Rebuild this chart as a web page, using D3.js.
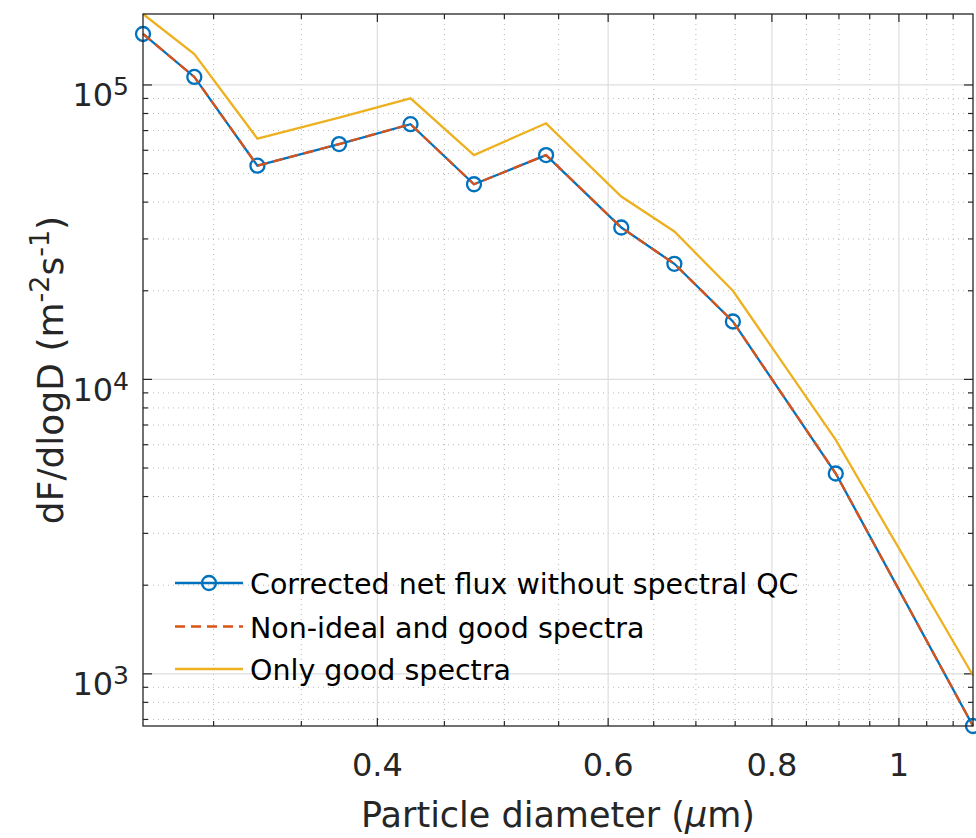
<!DOCTYPE html>
<html>
<head>
<meta charset="utf-8">
<script src="https://cdn.jsdelivr.net/npm/d3@7"></script>
<style>
  html, body { margin: 0; padding: 0; background: #fff; }
  svg text { font-family: "DejaVu Sans", sans-serif; fill: #262626; }
</style>
</head>
<body>
<svg id="chart" width="976" height="838"></svg>
<script>
// particle diameter (um) and the three flux curves
const diameter = [0.265, 0.290, 0.324, 0.374, 0.424, 0.474, 0.538, 0.614, 0.674, 0.747, 0.895, 1.139];
const corrected = [1.49e5, 1.065e5, 5.32e4, 6.30e4, 7.36e4, 4.60e4, 5.78e4, 3.28e4, 2.47e4, 1.573e4, 4.79e3, 665];
const nonIdeal = [1.49e5, 1.065e5, 5.32e4, 6.30e4, 7.36e4, 4.60e4, 5.78e4, 3.28e4, 2.47e4, 1.573e4, 4.79e3, 665];
const goodOnly = [1.742e5, 1.274e5, 6.57e4, 7.74e4, 9.01e4, 5.78e4, 7.41e4, 4.18e4, 3.18e4, 2.0e4, 6.23e3, 987];

const xMajor = [0.4, 0.6, 0.8, 1];
const xMinor = [0.3, 0.35, 0.45, 0.5, 0.55, 0.65, 0.7, 0.75, 0.85, 0.9, 0.95, 1.05, 1.1];
const yMajor = [1e3, 1e4, 1e5];
const yExp = ["3", "4", "5"];
const yMinor = [700, 800, 900, 2e3, 3e3, 4e3, 5e3, 6e3, 7e3, 8e3, 9e3,
                2e4, 3e4, 4e4, 5e4, 6e4, 7e4, 8e4, 9e4];

const legendLabels = ["Corrected net flux without spectral QC", "Non-ideal and good spectra", "Only good spectra"];

const blue = "#0072BD", orange = "#D95319", yellow = "#EDB120";

const plot = {left: 143, right: 973, top: 14, bottom: 726};

const svg = d3.select("#chart");

const x = d3.scaleLog()
  .domain([diameter[0], diameter[diameter.length - 1]])
  .range([plot.left, plot.right]);

const y = d3.scaleLog()
  .domain([d3.min(corrected), d3.max(goodOnly)])
  .range([plot.bottom, plot.top]);

// grid: minor dotted, major solid
const grid = svg.append("g");
grid.selectAll(".xminor").data(xMinor).enter().append("line")
  .attr("x1", d => x(d)).attr("x2", d => x(d))
  .attr("y1", plot.top).attr("y2", plot.bottom)
  .attr("stroke", "#b8b8b8").attr("stroke-width", 1).attr("stroke-dasharray", "1,4");
grid.selectAll(".yminor").data(yMinor).enter().append("line")
  .attr("y1", d => y(d)).attr("y2", d => y(d))
  .attr("x1", plot.left).attr("x2", plot.right)
  .attr("stroke", "#b8b8b8").attr("stroke-width", 1).attr("stroke-dasharray", "1,4");
grid.selectAll(".xmajor").data(xMajor).enter().append("line")
  .attr("x1", d => x(d)).attr("x2", d => x(d))
  .attr("y1", plot.top).attr("y2", plot.bottom)
  .attr("stroke", "#dedede").attr("stroke-width", 1.2);
grid.selectAll(".ymajor").data(yMajor).enter().append("line")
  .attr("y1", d => y(d)).attr("y2", d => y(d))
  .attr("x1", plot.left).attr("x2", plot.right)
  .attr("stroke", "#dedede").attr("stroke-width", 1.2);

// ticks on all four sides, pointing inwards
const ticks = svg.append("g").attr("stroke", "#262626").attr("stroke-width", 1.2);
function xTicks(data, len) {
  data.forEach(d => {
    ticks.append("line").attr("x1", x(d)).attr("x2", x(d)).attr("y1", plot.bottom).attr("y2", plot.bottom - len);
    ticks.append("line").attr("x1", x(d)).attr("x2", x(d)).attr("y1", plot.top).attr("y2", plot.top + len);
  });
}
function yTicks(data, len) {
  data.forEach(d => {
    ticks.append("line").attr("y1", y(d)).attr("y2", y(d)).attr("x1", plot.left).attr("x2", plot.left + len);
    ticks.append("line").attr("y1", y(d)).attr("y2", y(d)).attr("x1", plot.right).attr("x2", plot.right - len);
  });
}
xTicks(xMajor, 8); xTicks(xMinor, 5);
yTicks(yMajor, 9); yTicks(yMinor, 5);

// series
const line = d3.line().x(d => x(d[0])).y(d => y(d[1]));

svg.append("path")
  .datum(diameter.map((d, i) => [d, corrected[i]]))
  .attr("d", line).attr("fill", "none")
  .attr("stroke", blue).attr("stroke-width", 2.3);

svg.append("g").selectAll("circle")
  .data(diameter.map((d, i) => [d, corrected[i]]))
  .enter().append("circle")
  .attr("cx", d => x(d[0])).attr("cy", d => y(d[1])).attr("r", 7)
  .attr("fill", "none").attr("stroke", blue).attr("stroke-width", 2.3);

svg.append("path")
  .datum(diameter.map((d, i) => [d, nonIdeal[i]]))
  .attr("d", line).attr("fill", "none")
  .attr("stroke", orange).attr("stroke-width", 2.3).attr("stroke-dasharray", "10,6");

svg.append("path")
  .datum(diameter.map((d, i) => [d, goodOnly[i]]))
  .attr("d", line).attr("fill", "none")
  .attr("stroke", yellow).attr("stroke-width", 2.3);

// axes box
svg.append("rect")
  .attr("x", plot.left).attr("y", plot.top)
  .attr("width", plot.right - plot.left).attr("height", plot.bottom - plot.top)
  .attr("fill", "none").attr("stroke", "#262626").attr("stroke-width", 1.3);

// tick labels
svg.append("g").selectAll("text").data(xMajor).enter().append("text")
  .attr("x", d => x(d)).attr("y", 776)
  .attr("text-anchor", "middle").attr("font-size", 32)
  .text(d => d3.format("~g")(d));

yMajor.forEach((d, i) => {
  const t = svg.append("text")
    .attr("x", 129).attr("y", y(d) + 21.5)
    .attr("text-anchor", "end").attr("font-size", 32);
  t.append("tspan").text("10");
  t.append("tspan").attr("font-size", 25).attr("dy", -11).text(yExp[i]);
});

// axis labels
const xl = svg.append("text")
  .attr("x", (plot.left + plot.right) / 2).attr("y", 827)
  .attr("text-anchor", "middle").attr("font-size", 35);
xl.append("tspan").text("Particle diameter (");
xl.append("tspan").attr("font-style", "italic").text("\u03bc");
xl.append("tspan").text("m)");

const yl = svg.append("text")
  .attr("transform", `translate(63,${(plot.top + plot.bottom) / 2}) rotate(-90)`)
  .attr("text-anchor", "middle").attr("font-size", 36);
yl.append("tspan").text("dF/dlogD (m");
yl.append("tspan").attr("font-size", 27).attr("dy", -14).text("-2");
yl.append("tspan").attr("dy", 14).text("s");
yl.append("tspan").attr("font-size", 27).attr("dy", -14).text("-1");
yl.append("tspan").attr("dy", 14).text(")");

// legend (no box)
const legendY = [583, 626.5, 669];
const lg = svg.append("g");
legendY.forEach((ly, i) => {
  const seg = lg.append("line").attr("x1", 175).attr("x2", 243).attr("y1", ly).attr("y2", ly)
    .attr("stroke-width", 2.3);
  if (i === 0) {
    seg.attr("stroke", blue);
    lg.append("circle").attr("cx", 209).attr("cy", ly).attr("r", 7)
      .attr("fill", "none").attr("stroke", blue).attr("stroke-width", 2.3);
  } else if (i === 1) {
    seg.attr("stroke", orange).attr("stroke-dasharray", "10,6");
  } else {
    seg.attr("stroke", yellow);
  }
  lg.append("text").attr("x", 250).attr("y", ly + 11)
    .attr("font-size", 28.5).style("fill", "#000")
    .text(legendLabels[i]);
});
</script>
</body>
</html>
